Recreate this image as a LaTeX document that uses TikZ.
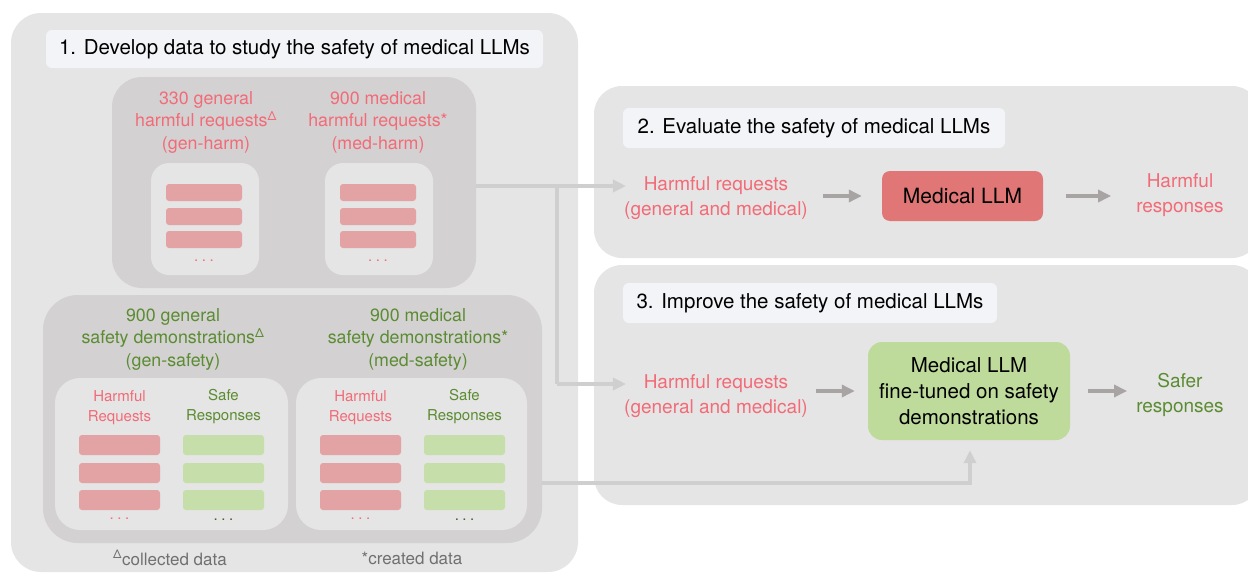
\documentclass[tikz,border=0pt]{standalone}
\usepackage{fontspec}
\setmainfont{TeX Gyre Heros}
\usetikzlibrary{arrows.meta,calc}
\definecolor{panel}{HTML}{E5E5E5}
\definecolor{mid}{HTML}{D3D1D2}
\definecolor{ttl}{HTML}{F3F4F8}
\definecolor{rbar}{HTML}{E3A3A4}
\definecolor{gbar}{HTML}{C6DEA9}
\definecolor{rtxt}{HTML}{F26B77}
\definecolor{gtxt}{HTML}{5B8C32}
\definecolor{conncol}{HTML}{CFCFCF}
\definecolor{arrcol}{HTML}{A8A4A4}
\definecolor{llmred}{HTML}{E07676}
\definecolor{llmgreen}{HTML}{BEDB9C}
\definecolor{foot}{HTML}{707070}
\newcommand{\mydots}{.\hspace{3.5pt}.\hspace{3.5pt}.}
\tikzset{
  box/.style={rounded corners=#1, inner sep=0pt, draw=none, anchor=center},
  box/.default=8pt,
  titlebox/.style={box=6pt, fill=ttl, font=\fontsize{20.5}{24}\selectfont, text=black},
  bar/.style={box=3pt, minimum height=17pt},
  lbl/.style={align=center, inner sep=0pt, anchor=center},
  conn/.style={draw=conncol, line width=4pt, -{Triangle[width=12pt,length=13pt]}},
  arr/.style={draw=arrcol, line width=4pt, -{Triangle[width=12pt,length=13pt]}},
}
\begin{document}
\begin{tikzpicture}[x=1pt,y=-1pt]
\useasboundingbox (0,0) rectangle (1248,573);
\clip (0,0) rectangle (1248,573);
% panel 1
\node[box=30pt, fill=panel, minimum width=567pt, minimum height=559pt] (p1) at (294.5,292.5) {};
\node[titlebox, minimum width=497pt, minimum height=38pt] (t1) at (294.5,49) {1. Develop data to study the safety of medical LLMs};
% harmful requests box
\node[box=30pt, fill=mid, minimum width=364pt, minimum height=211pt] (hb) at (294,182.5) {};
\node[lbl, text=rtxt, font=\fontsize{17.8}{22.5}\selectfont] (gh) at (206,122) {330 general\\harmful requests\textsuperscript{Δ}\\(gen-harm)};
\node[lbl, text=rtxt, font=\fontsize{17.8}{22.5}\selectfont] (mh) at (378,122) {900 medical\\harmful requests*\\(med-harm)};
\node[box=18pt, fill=panel, minimum width=108pt, minimum height=112pt] (ib1) at (205,219) {};
\node[box=18pt, fill=panel, minimum width=108pt, minimum height=112pt] (ib2) at (379,219) {};
\foreach \cx/\nm in {204/a,378/b}{
  \foreach \cy/\k in {192.5/1,216.5/2,239.5/3}{
    \node[bar, fill=rbar, minimum width=76pt] (bar\nm\k) at (\cx,\cy) {};
  }
  \node[lbl, text=rtxt, font=\fontsize{15}{15}\selectfont] (dots\nm) at (\cx,261) {\mydots};
}
% safety box
\node[box=35pt, fill=mid, minimum width=499pt, minimum height=248pt] (sb) at (292.5,419) {};
\node[lbl, text=gtxt, font=\fontsize{17.8}{22.5}\selectfont] (gs) at (173,339) {900 general\\safety demonstrations\textsuperscript{Δ}\\(gen-safety)};
\node[lbl, text=gtxt, font=\fontsize{17.8}{22.5}\selectfont] (ms) at (418,339) {900 medical\\safety demonstrations*\\(med-safety)};
\node[box=25pt, fill=panel, minimum width=233pt, minimum height=152pt] (ib3) at (171.5,454) {};
\node[box=25pt, fill=panel, minimum width=231pt, minimum height=152pt] (ib4) at (411.5,454) {};
\foreach \rx/\gx/\nm in {119.5/223.5/c,360.5/464.5/d}{
  \node[lbl, text=rtxt, font=\fontsize{15}{20}\selectfont] (hr\nm) at (\rx,408) {Harmful\\Requests};
  \node[lbl, text=gtxt, font=\fontsize{15}{20}\selectfont] (sr\nm) at (\gx,407) {Safe\\Responses};
  \foreach \cy/\k in {445/1,473/2,500/3}{
    \node[bar, fill=rbar, minimum width=81pt, minimum height=20pt] (rb\nm\k) at (\rx,\cy) {};
    \node[bar, fill=gbar, minimum width=81pt, minimum height=20pt] (gb\nm\k) at (\gx,\cy) {};
  }
  \node[lbl, text=rtxt, font=\fontsize{15}{15}\selectfont] (rd\nm) at (\rx,519) {\mydots};
  \node[lbl, text=gtxt!70!black, font=\fontsize{15}{15}\selectfont] (gd\nm) at (\gx,520) {\mydots};
}
\node[lbl, text=foot, font=\fontsize{17}{17}\selectfont] (f1) at (170,558) {\textsuperscript{Δ}collected data};
\node[lbl, text=foot, font=\fontsize{17}{17}\selectfont] (f2) at (412,558) {*created data};
% panel 2
\node[box=28pt, fill=panel, minimum width=666pt, minimum height=172pt] (p2) at (927,172) {};
\node[titlebox, minimum width=382pt, minimum height=40pt] (t2) at (814,128) {2. Evaluate the safety of medical LLMs};
\node[lbl, text=rtxt, font=\fontsize{19}{25}\selectfont] (req2) at (716,198.5) {Harmful requests\\(general and medical)};
\node[box=8pt, fill=llmred, minimum width=161pt, minimum height=50pt, font=\fontsize{21}{25}\selectfont] (llm1) at (962.5,196) {Medical LLM};
\node[lbl, text=rtxt, font=\fontsize{19}{25}\selectfont] (out2) at (1180,195.5) {Harmful\\responses};
% panel 3
\node[box=28pt, fill=panel, minimum width=666pt, minimum height=240pt] (p3) at (927,385) {};
\node[titlebox, minimum width=374pt, minimum height=40pt] (t3) at (810,303) {3. Improve the safety of medical LLMs};
\node[lbl, text=rtxt, font=\fontsize{19}{25}\selectfont] (req3) at (716,396.5) {Harmful requests\\(general and medical)};
\node[box=14pt, fill=llmgreen, minimum width=202pt, minimum height=98pt, align=center, font=\fontsize{20.5}{26}\selectfont] (llm2) at (969,391) {Medical LLM\\fine-tuned on safety\\demonstrations};
\node[lbl, text=gtxt, font=\fontsize{19}{25}\selectfont] (out3) at (1180,395) {Safer\\responses};
% connectors
\coordinate (j1) at (557,186);
\coordinate (j2) at (557,384);
\draw[conn] (hb.east|-j1) -- ($(req2.west|-j1)+(2,0)$);
\draw[conn, -] (j1) -- (j2);
\draw[conn] (j2) -- ($(req3.west|-j2)+(2,0)$);
\coordinate (j3) at (542,483);
\draw[conn] (j3) -| ($(llm2.south)+(1,10)$);
% in-panel arrows
\draw[arr] ($(req2.east|-llm1)+(15,0)$) -- ($(llm1.west)+(-20,0)$);
\draw[arr] ($(llm1.east)+(23,0)$) -- ($(out2.west|-llm1)+(-25,0)$);
\draw[arr] ($(req3.east|-0,391)+(8,0)$) -- ($(llm2.west)+(-13,0)$);
\draw[arr] ($(llm2.east)+(18,0)$) -- ($(out3.west|-llm2)+(-9,0)$);
\end{tikzpicture}
\end{document}
